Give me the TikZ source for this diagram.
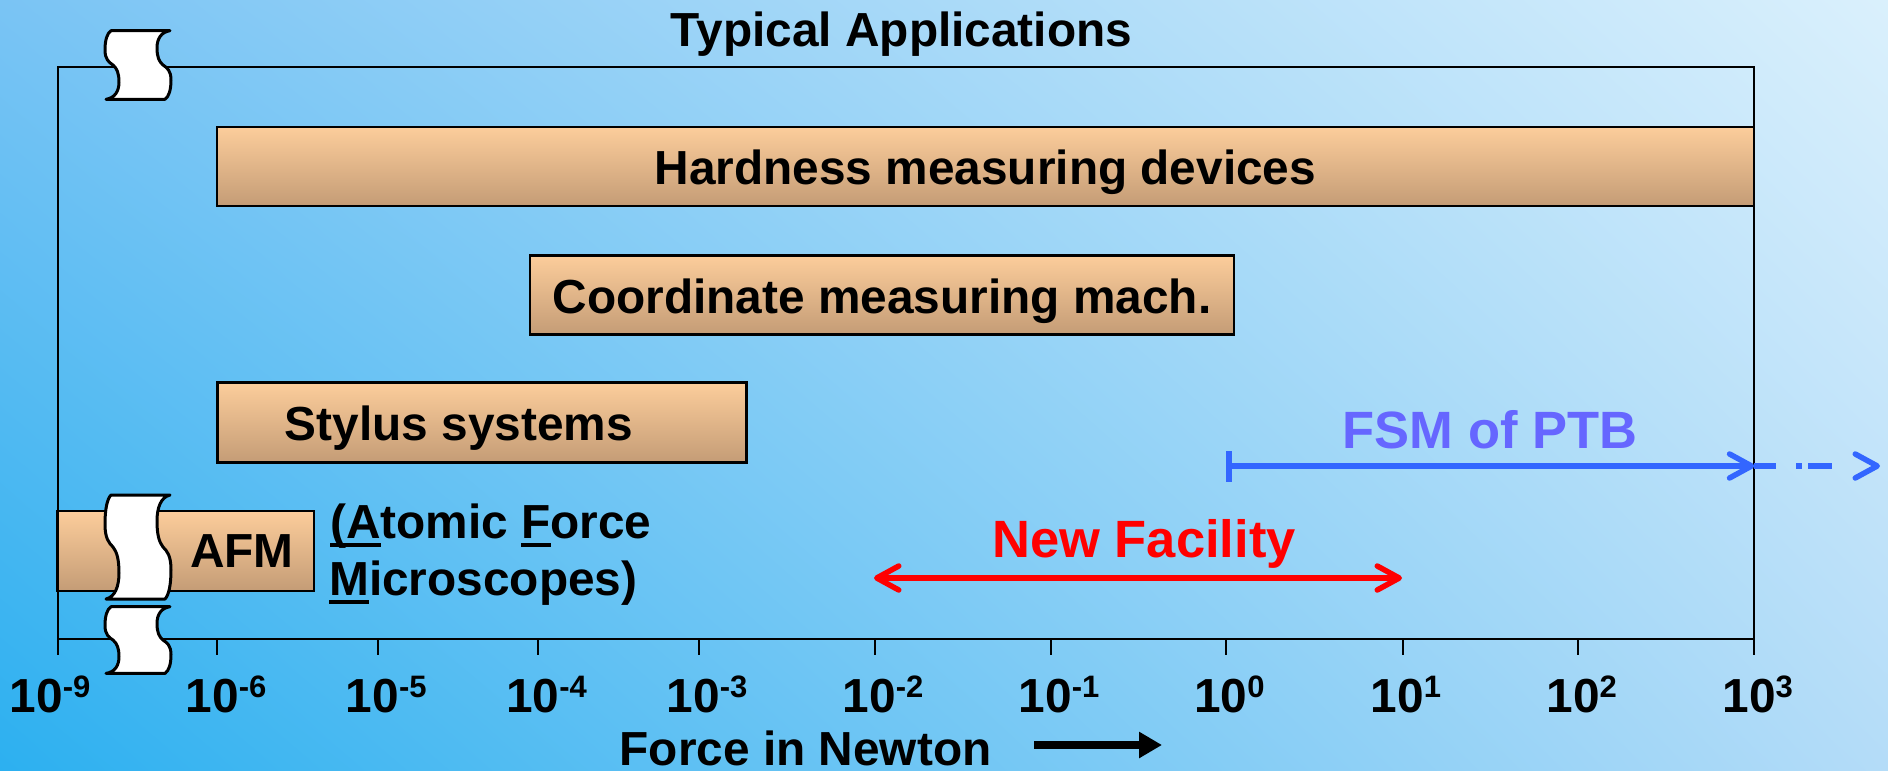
\documentclass[tikz,border=0pt]{standalone}
\usepackage{fontspec}
\setmainfont{Liberation Sans}
\usetikzlibrary{arrows.meta,shadings}
\definecolor{bgBL}{RGB}{44,176,240}
\definecolor{bgTL}{RGB}{122,196,244}
\definecolor{bgTR}{RGB}{218,240,252}
\definecolor{bgBR}{RGB}{180,220,248}
\definecolor{barTop}{RGB}{252,205,155}
\definecolor{barBot}{RGB}{196,156,118}
\definecolor{fsmLine}{RGB}{51,102,255}
\definecolor{fsmText}{RGB}{102,102,255}
\newcommand{\bigf}{\fontsize{47.8}{57}\selectfont\bfseries}
\newcommand{\fsmf}{\fontsize{52.5}{60}\selectfont\bfseries}
\newcommand{\pw}[1]{10\raisebox{14.5pt}{\fontsize{31}{31}\selectfont #1}}
\newcommand{\ulin}[1]{\setbox0=\hbox{#1}\rlap{\rule[-8.7pt]{\wd0}{3.8pt}}\box0}
\newcommand{\breakmark}[3]{%
  \begin{scope}[shift={(#1,#2)},yscale=#3]
    \filldraw[brk] (6,0) -- (65,0)
      .. controls (56,0.02) and (52,0.12) .. (52,0.25)
      .. controls (52,0.38) and (54,0.45) .. (58,0.5)
      .. controls (62,0.54) and (66,0.58) .. (66,0.72)
      .. controls (66,0.86) and (64,0.96) .. (60,1)
      -- (1,1)
      .. controls (10,0.98) and (14,0.88) .. (14,0.75)
      .. controls (14,0.62) and (12,0.55) .. (8,0.5)
      .. controls (4,0.46) and (0,0.42) .. (0,0.28)
      .. controls (0,0.14) and (2,0.04) .. (6,0) -- cycle;
  \end{scope}}
\tikzset{
  lbl/.style={inner sep=0pt, font=\bigf},
  bar/.style={draw, line width=2.5pt, top color=barTop, bottom color=barBot,
    inner sep=0pt, font=\bigf, text height=36pt, text depth=0pt},
  brk/.style={fill=white, draw=black, line width=3pt, line join=round},
  frameline/.style={line width=2pt},
  barb/.tip={Straight Barb[length=22pt,width=24pt,round]},
}
\begin{document}
\begin{tikzpicture}[x=1pt,y=-1pt]
\useasboundingbox (0,0) rectangle (1888,771);
\shade[upper left=bgTL, upper right=bgTR, lower left=bgBL, lower right=bgBR]
  (0,0) rectangle (1888,771);

% frame and axis
\draw[frameline] (57.5,66.5) rectangle (1754.3,638.5);
\foreach \tx in {57.5,217.4,377.7,538,698.5,874.5,1050.5,1226,1402.5,1578.3,1754.3}
  \draw[frameline] (\tx,638.5) -- (\tx,655);

% title
\node[lbl, anchor=base] (title) at (901.5,46) {Typical Applications};

% bars
\node[bar, minimum width=1537.3pt, minimum height=79pt] (hard) at (985.4,166.5) {Hardness measuring devices};
\node[bar, minimum width=704.2pt, minimum height=79.4pt] (cmm) at (882,295) {Coordinate measuring mach.};
\node[bar, minimum width=529.2pt, minimum height=80pt] (sty) at (481.9,422.7) {Stylus systems\kern45.8pt};
\node[bar, minimum width=256.7pt, minimum height=80pt] (afm) at (185.7,551) {};
\node[lbl, anchor=base] (afmlbl) at (242,567) {AFM};
\node[lbl, anchor=base west] (afmtxt1) at (330,538.3) {\ulin{(A}tomic \ulin{F}orce};
\node[lbl, anchor=base west] (afmtxt2) at (329,595) {\ulin{M}icroscopes)};

% break marks
\breakmark{105}{30.7}{68.6}
\breakmark{105}{495}{104}
\breakmark{105}{606.7}{66.7}

% tick labels
\foreach \lx/\ex [count=\i] in {9.5/-9,185.4/-6,345.7/-5,506/-4,666.5/-3,842.5/-2,1018.5/-1,1194/0,1370.5/1,1546.3/2,1722.3/3}
  \node[lbl, anchor=base west] (tl\i) at (\lx,712) {\pw{\ex}};

% axis title and arrow
\node[lbl, anchor=base west] (force) at (619.5,765) {Force in Newton};
\coordinate (fa1) at (1034,745);
\coordinate (fa2) at (1162,745);
\draw[line width=8pt, -{Triangle[length=23pt,width=25pt]}] (fa1) -- (fa2);

% FSM of PTB
\node[inner sep=0pt, font=\fsmf, text=fsmText, anchor=base] (fsm) at (1490,448) {FSM of PTB};
\coordinate (fsmA) at (1226,466);
\coordinate (fsmB) at (1754.3,466);
\coordinate (fsmC) at (1880,466);
\draw[fsmLine, line width=5.5pt, {Bar[width=31pt]}-barb] (fsmA) -- (fsmB);
\draw[fsmLine, line width=5.5pt, dash pattern=on 22pt off 20pt on 6pt off 6pt on 24pt off 60pt, -barb] (fsmB) -- (fsmC);

% New Facility
\node[inner sep=0pt, font=\fsmf, text=red, anchor=base] (nf) at (1144,557) {New Facility};
\coordinate (nfA) at (874,578);
\coordinate (nfB) at (1402,578);
\draw[red, line width=5.5pt, barb-barb] (nfA) -- (nfB);
\end{tikzpicture}
\end{document}
